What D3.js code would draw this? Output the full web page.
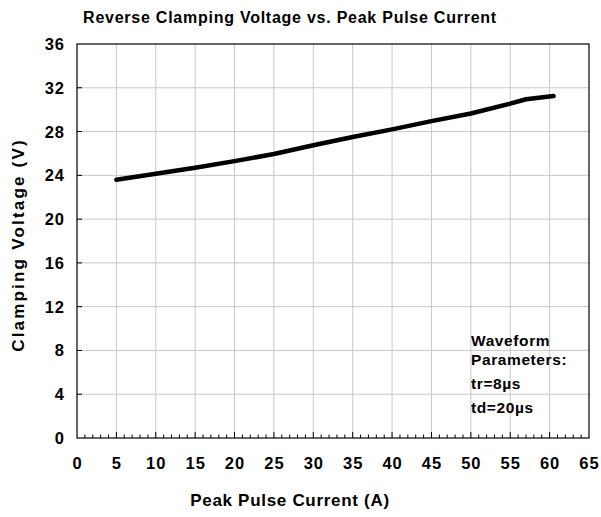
<!DOCTYPE html>
<html>
<head>
<meta charset="utf-8">
<script src="https://cdn.jsdelivr.net/npm/d3@7"></script>
<style>
  body { margin: 0; background: #fff; }
  text { font-family: "Liberation Sans", Arial, sans-serif; font-weight: bold; fill: #000; }
</style>
</head>
<body>
<div id="vis"></div>
<script>
const width = 601;
const height = 517;

// curve
const current = [5, 10, 15, 20, 25, 30, 35, 40, 45, 50, 55, 57, 60.5];
const voltage = [23.6, 24.15, 24.7, 25.3, 25.95, 26.75, 27.5, 28.2, 28.95, 29.65, 30.55, 30.95, 31.25];

const xTicks = d3.range(0, 66, 5);
const yTicks = d3.range(0, 37, 4);
const noteLines = ['Waveform', 'Parameters:', 'tr=8\u00b5s', 'td=20\u00b5s'];

const margin = {top: 44, right: 12, bottom: 79, left: 77};

let vis = d3.select('#vis')
            .append('svg')
            .attr('width', width)
            .attr('height', height);

const x = d3.scaleLinear().domain([0, 65]).range([margin.left, width - margin.right]);
const y = d3.scaleLinear().domain([0, 36]).range([height - margin.bottom, margin.top]);

// grid
vis.append('g')
   .selectAll('line')
   .data(xTicks.slice(1, -1))
   .enter()
   .append('line')
   .attr('x1', d => x(d)).attr('x2', d => x(d))
   .attr('y1', y(0)).attr('y2', y(36))
   .attr('stroke', '#c8c8c8');

vis.append('g')
   .selectAll('line')
   .data(yTicks.slice(1, -1))
   .enter()
   .append('line')
   .attr('x1', x(0)).attr('x2', x(65))
   .attr('y1', d => y(d)).attr('y2', d => y(d))
   .attr('stroke', '#c8c8c8');

// frame
vis.append('rect')
   .attr('x', x(0)).attr('y', y(36))
   .attr('width', x(65) - x(0)).attr('height', y(0) - y(36))
   .attr('fill', 'none').attr('stroke', '#000').attr('stroke-width', 1.2);

// x minor ticks, inward
vis.append('g')
   .selectAll('line')
   .data(d3.range(1, 65))
   .enter()
   .append('line')
   .attr('x1', d => x(d)).attr('x2', d => x(d))
   .attr('y1', y(0)).attr('y2', d => y(0) - (d % 5 === 0 ? 6 : 3.5))
   .attr('stroke', '#000');

// y ticks, inward
vis.append('g')
   .selectAll('line')
   .data(yTicks.slice(1, -1))
   .enter()
   .append('line')
   .attr('x1', x(0)).attr('x2', x(0) + 5)
   .attr('y1', d => y(d)).attr('y2', d => y(d))
   .attr('stroke', '#000');

// tick labels
vis.append('g')
   .selectAll('text')
   .data(xTicks)
   .enter()
   .append('text')
   .attr('x', d => x(d) + 0.5)
   .attr('y', 469)
   .attr('text-anchor', 'middle')
   .attr('font-size', 16.5)
   .attr('letter-spacing', 1)
   .text(d => d);

vis.append('g')
   .selectAll('text')
   .data(yTicks)
   .enter()
   .append('text')
   .attr('x', 65)
   .attr('y', d => y(d) + 6)
   .attr('text-anchor', 'end')
   .attr('font-size', 16.5)
   .attr('letter-spacing', 1)
   .text(d => d);

// curve
const line = d3.line()
               .x(d => x(d[0]))
               .y(d => y(d[1]));

vis.append('path')
   .datum(d3.zip(current, voltage))
   .attr('d', line)
   .attr('fill', 'none')
   .attr('stroke', '#000')
   .attr('stroke-width', 4.5)
   .attr('stroke-linecap', 'round')
   .attr('stroke-linejoin', 'round');

// titles
vis.append('text')
   .attr('x', 290).attr('y', 23)
   .attr('text-anchor', 'middle')
   .attr('font-size', 16)
   .attr('letter-spacing', 0.75)
   .text('Reverse Clamping Voltage vs. Peak Pulse Current');

vis.append('text')
   .attr('x', 290).attr('y', 506)
   .attr('text-anchor', 'middle')
   .attr('font-size', 17)
   .attr('letter-spacing', 0.7)
   .text('Peak Pulse Current (A)');

vis.append('text')
   .attr('transform', 'translate(24,245) rotate(-90)')
   .attr('text-anchor', 'middle')
   .attr('font-size', 17)
   .attr('letter-spacing', 2.2)
   .text('Clamping Voltage (V)');

// waveform note
vis.append('g')
   .selectAll('text')
   .data(noteLines)
   .enter()
   .append('text')
   .attr('x', 471)
   .attr('y', (d, i) => [346, 365, 389, 413][i])
   .attr('font-size', 15.5)
   .attr('letter-spacing', 0.6)
   .text(d => d);
</script>
</body>
</html>
